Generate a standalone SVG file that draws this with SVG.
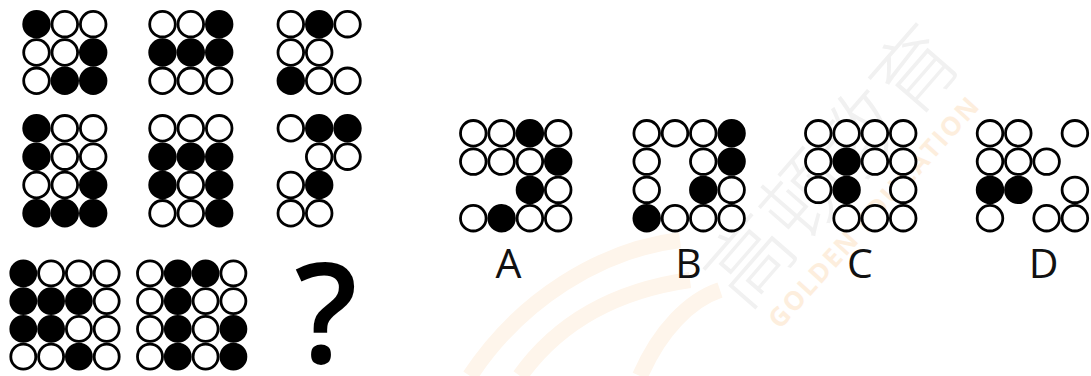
<svg xmlns="http://www.w3.org/2000/svg" width="1091" height="376" viewBox="0 0 1091 376">
<style>
.w{fill:#fff;stroke:#000;stroke-width:2.8}
.b{fill:#000;stroke:#000;stroke-width:2.8}
.lbl{font-family:"Open Sans","Noto Sans",sans-serif;font-size:41px;fill:#111;text-anchor:middle}
.q{font-family:"Open Sans","Noto Sans",sans-serif;font-size:139px;font-weight:600;fill:#000;text-anchor:middle}
.wm{font-family:"Noto Sans CJK SC",sans-serif;font-size:84px;font-weight:300;fill:#f1f1f1}
.wm2{font-family:"Open Sans","Noto Sans",sans-serif;font-size:26px;font-weight:bold;fill:#fdeedd;letter-spacing:2px}
</style>
<rect width="1091" height="376" fill="#fff"/>
<g id="watermark">
<path d="M470,376 C520,300 600,250 680,240 M520,376 C560,320 620,290 690,280 M640,376 C660,330 690,300 720,290" fill="none" stroke="#fef5eb" stroke-width="16"/>
<text class="wm" transform="translate(745,312) rotate(-49)">高顿教育</text>
<text class="wm2" transform="translate(780,330) rotate(-48)">GOLDEN EDUCATION</text>
</g>
<g id="panel1">
<circle class="b" cx="36.5" cy="24.2" r="12.8"/><circle class="w" cx="64.8" cy="24.2" r="12.8"/><circle class="w" cx="93.2" cy="24.2" r="12.8"/>
<circle class="w" cx="36.5" cy="52.5" r="12.8"/><circle class="w" cx="64.8" cy="52.5" r="12.8"/><circle class="b" cx="93.2" cy="52.5" r="12.8"/>
<circle class="w" cx="36.5" cy="80.8" r="12.8"/><circle class="b" cx="64.8" cy="80.8" r="12.8"/><circle class="b" cx="93.2" cy="80.8" r="12.8"/>
</g>
<g id="panel2">
<circle class="w" cx="162.5" cy="24.2" r="12.8"/><circle class="w" cx="190.8" cy="24.2" r="12.8"/><circle class="b" cx="219.2" cy="24.2" r="12.8"/>
<circle class="b" cx="162.5" cy="52.5" r="12.8"/><circle class="b" cx="190.8" cy="52.5" r="12.8"/><circle class="b" cx="219.2" cy="52.5" r="12.8"/>
<circle class="w" cx="162.5" cy="80.8" r="12.8"/><circle class="w" cx="190.8" cy="80.8" r="12.8"/><circle class="w" cx="219.2" cy="80.8" r="12.8"/>
</g>
<g id="panel3">
<circle class="w" cx="290.8" cy="24.2" r="12.8"/><circle class="b" cx="319.2" cy="24.2" r="12.8"/><circle class="w" cx="347.5" cy="24.2" r="12.8"/>
<circle class="w" cx="290.8" cy="52.5" r="12.8"/><circle class="w" cx="319.2" cy="52.5" r="12.8"/>
<circle class="b" cx="290.8" cy="80.8" r="12.8"/><circle class="w" cx="319.2" cy="80.8" r="12.8"/><circle class="w" cx="347.5" cy="80.8" r="12.8"/>
</g>
<g id="panel4">
<circle class="b" cx="36.5" cy="128.3" r="12.8"/><circle class="w" cx="64.8" cy="128.3" r="12.8"/><circle class="w" cx="93.2" cy="128.3" r="12.8"/>
<circle class="b" cx="36.5" cy="156.7" r="12.8"/><circle class="w" cx="64.8" cy="156.7" r="12.8"/><circle class="w" cx="93.2" cy="156.7" r="12.8"/>
<circle class="w" cx="36.5" cy="185" r="12.8"/><circle class="w" cx="64.8" cy="185" r="12.8"/><circle class="b" cx="93.2" cy="185" r="12.8"/>
<circle class="b" cx="36.5" cy="213.3" r="12.8"/><circle class="b" cx="64.8" cy="213.3" r="12.8"/><circle class="b" cx="93.2" cy="213.3" r="12.8"/>
</g>
<g id="panel5">
<circle class="w" cx="162.5" cy="128.3" r="12.8"/><circle class="w" cx="190.8" cy="128.3" r="12.8"/><circle class="w" cx="219.2" cy="128.3" r="12.8"/>
<circle class="b" cx="162.5" cy="156.7" r="12.8"/><circle class="b" cx="190.8" cy="156.7" r="12.8"/><circle class="b" cx="219.2" cy="156.7" r="12.8"/>
<circle class="b" cx="162.5" cy="185" r="12.8"/><circle class="w" cx="190.8" cy="185" r="12.8"/><circle class="b" cx="219.2" cy="185" r="12.8"/>
<circle class="w" cx="162.5" cy="213.3" r="12.8"/><circle class="w" cx="190.8" cy="213.3" r="12.8"/><circle class="b" cx="219.2" cy="213.3" r="12.8"/>
</g>
<g id="panel6">
<circle class="w" cx="290.8" cy="128.3" r="12.8"/><circle class="b" cx="319.2" cy="128.3" r="12.8"/><circle class="b" cx="347.5" cy="128.3" r="12.8"/>
<circle class="w" cx="319.2" cy="156.7" r="12.8"/><circle class="w" cx="347.5" cy="156.7" r="12.8"/>
<circle class="w" cx="290.8" cy="185" r="12.8"/><circle class="b" cx="319.2" cy="185" r="12.8"/>
<circle class="w" cx="290.8" cy="213.3" r="12.8"/><circle class="w" cx="319.2" cy="213.3" r="12.8"/>
</g>
<g id="panel7">
<circle class="b" cx="23.3" cy="273.3" r="12.5"/><circle class="w" cx="51.1" cy="273.3" r="12.5"/><circle class="w" cx="78.9" cy="273.3" r="12.5"/><circle class="w" cx="106.7" cy="273.3" r="12.5"/>
<circle class="b" cx="23.3" cy="301.1" r="12.5"/><circle class="b" cx="51.1" cy="301.1" r="12.5"/><circle class="b" cx="78.9" cy="301.1" r="12.5"/><circle class="w" cx="106.7" cy="301.1" r="12.5"/>
<circle class="b" cx="23.3" cy="328.9" r="12.5"/><circle class="b" cx="51.1" cy="328.9" r="12.5"/><circle class="w" cx="78.9" cy="328.9" r="12.5"/><circle class="w" cx="106.7" cy="328.9" r="12.5"/>
<circle class="w" cx="23.3" cy="356.7" r="12.5"/><circle class="w" cx="51.1" cy="356.7" r="12.5"/><circle class="b" cx="78.9" cy="356.7" r="12.5"/><circle class="w" cx="106.7" cy="356.7" r="12.5"/>
</g>
<g id="panel8">
<circle class="w" cx="150" cy="273.3" r="12.5"/><circle class="b" cx="177.8" cy="273.3" r="12.5"/><circle class="b" cx="205.6" cy="273.3" r="12.5"/><circle class="w" cx="233.4" cy="273.3" r="12.5"/>
<circle class="w" cx="150" cy="301.1" r="12.5"/><circle class="b" cx="177.8" cy="301.1" r="12.5"/><circle class="w" cx="205.6" cy="301.1" r="12.5"/><circle class="w" cx="233.4" cy="301.1" r="12.5"/>
<circle class="w" cx="150" cy="328.9" r="12.5"/><circle class="b" cx="177.8" cy="328.9" r="12.5"/><circle class="w" cx="205.6" cy="328.9" r="12.5"/><circle class="b" cx="233.4" cy="328.9" r="12.5"/>
<circle class="w" cx="150" cy="356.7" r="12.5"/><circle class="b" cx="177.8" cy="356.7" r="12.5"/><circle class="w" cx="205.6" cy="356.7" r="12.5"/><circle class="b" cx="233.4" cy="356.7" r="12.5"/>
</g>
<g id="question">
<text class="q" x="326" y="363">?</text>
</g>
<g id="optionA">
<circle class="w" cx="473.3" cy="133.3" r="12.8"/><circle class="w" cx="501.6" cy="133.3" r="12.8"/><circle class="b" cx="529.9" cy="133.3" r="12.8"/><circle class="w" cx="558.2" cy="133.3" r="12.8"/>
<circle class="w" cx="473.3" cy="161.6" r="12.8"/><circle class="w" cx="501.6" cy="161.6" r="12.8"/><circle class="w" cx="529.9" cy="161.6" r="12.8"/><circle class="b" cx="558.2" cy="161.6" r="12.8"/>
<circle class="b" cx="529.9" cy="189.9" r="12.8"/><circle class="w" cx="558.2" cy="189.9" r="12.8"/>
<circle class="w" cx="473.3" cy="218.2" r="12.8"/><circle class="b" cx="501.6" cy="218.2" r="12.8"/><circle class="w" cx="529.9" cy="218.2" r="12.8"/><circle class="w" cx="558.2" cy="218.2" r="12.8"/>
<text class="lbl" x="508.5" y="278">A</text>
</g>
<g id="optionB">
<circle class="w" cx="646.7" cy="133.3" r="12.8"/><circle class="w" cx="675" cy="133.3" r="12.8"/><circle class="w" cx="703.3" cy="133.3" r="12.8"/><circle class="b" cx="731.6" cy="133.3" r="12.8"/>
<circle class="w" cx="646.7" cy="161.6" r="12.8"/><circle class="w" cx="703.3" cy="161.6" r="12.8"/><circle class="b" cx="731.6" cy="161.6" r="12.8"/>
<circle class="w" cx="646.7" cy="189.9" r="12.8"/><circle class="b" cx="703.3" cy="189.9" r="12.8"/><circle class="w" cx="731.6" cy="189.9" r="12.8"/>
<circle class="b" cx="646.7" cy="218.2" r="12.8"/><circle class="w" cx="675" cy="218.2" r="12.8"/><circle class="w" cx="703.3" cy="218.2" r="12.8"/><circle class="w" cx="731.6" cy="218.2" r="12.8"/>
<text class="lbl" x="688.5" y="278">B</text>
</g>
<g id="optionC">
<circle class="w" cx="818.3" cy="133.3" r="12.8"/><circle class="w" cx="846.6" cy="133.3" r="12.8"/><circle class="w" cx="874.9" cy="133.3" r="12.8"/><circle class="w" cx="903.2" cy="133.3" r="12.8"/>
<circle class="w" cx="818.3" cy="161.6" r="12.8"/><circle class="b" cx="846.6" cy="161.6" r="12.8"/><circle class="w" cx="874.9" cy="161.6" r="12.8"/><circle class="w" cx="903.2" cy="161.6" r="12.8"/>
<circle class="w" cx="818.3" cy="189.9" r="12.8"/><circle class="b" cx="846.6" cy="189.9" r="12.8"/><circle class="w" cx="903.2" cy="189.9" r="12.8"/>
<circle class="w" cx="846.6" cy="218.2" r="12.8"/><circle class="w" cx="874.9" cy="218.2" r="12.8"/><circle class="w" cx="903.2" cy="218.2" r="12.8"/>
<text class="lbl" x="860" y="278">C</text>
</g>
<g id="optionD">
<circle class="w" cx="990" cy="133.3" r="12.8"/><circle class="w" cx="1018.3" cy="133.3" r="12.8"/><circle class="w" cx="1074.9" cy="133.3" r="12.8"/>
<circle class="w" cx="990" cy="161.6" r="12.8"/><circle class="w" cx="1018.3" cy="161.6" r="12.8"/><circle class="w" cx="1046.6" cy="161.6" r="12.8"/>
<circle class="b" cx="990" cy="189.9" r="12.8"/><circle class="b" cx="1018.3" cy="189.9" r="12.8"/><circle class="w" cx="1074.9" cy="189.9" r="12.8"/>
<circle class="w" cx="990" cy="218.2" r="12.8"/><circle class="w" cx="1046.6" cy="218.2" r="12.8"/><circle class="w" cx="1074.9" cy="218.2" r="12.8"/>
<text class="lbl" x="1043.5" y="278">D</text>
</g>
</svg>
